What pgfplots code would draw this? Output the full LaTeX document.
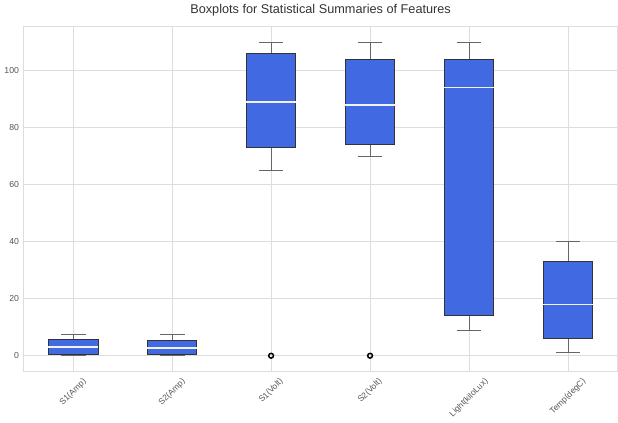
\documentclass[border=0pt]{standalone}
\usepackage{pgfplots}
\pgfplotsset{compat=1.18}
\usepgfplotslibrary{statistics}
\usepackage{fontspec}
\setmainfont{Liberation Sans}
\definecolor{royal}{HTML}{4169E1}
\definecolor{gridc}{HTML}{DDDDDD}
\definecolor{tickc}{HTML}{555555}
\begin{document}
\begin{tikzpicture}
\begin{axis}[
  scale only axis,
  width=444pt, height=258pt,
  xmin=0.5, xmax=6.5, ymin=-5.5, ymax=115.5,
  xtick={1,2,3,4,5,6},
  xticklabels={\rotatebox{45}{S1(Amp)},\rotatebox{45}{S2(Amp)},\rotatebox{45}{S1(Volt)},\rotatebox{45}{S2(Volt)},\rotatebox{45}{Light(kiloLux)},\rotatebox{45}{Temp(degC)}},
  xticklabel style={anchor=north, font=\fontsize{6.3}{7}\selectfont, text=tickc, yshift=-1pt},
  ytick={0,20,40,60,80,100},
  yticklabel style={font=\fontsize{6.5}{7}\selectfont, text=tickc},
  /pgf/number format/assume math mode=true,
  grid=major,
  major grid style={gridc, line width=0.6pt},
  axis line style={gridc, line width=0.8pt},
  tick style={draw=none},
  title={Boxplots for Statistical Summaries of Features},
  title style={font=\fontsize{9.5}{11}\selectfont, text=black!80, yshift=-2pt},
  boxplot/draw direction=y,
  boxplot/box extend=0.5,
  boxplot/whisker extend=0.25,
  boxplot/every box/.style={draw=black!80, fill=royal, line width=0.6pt},
  boxplot/every whisker/.style={draw=black!60, line width=0.7pt},
  boxplot/every median/.style={draw=white!90!gray, line width=1.2pt},
  outl/.style={mark=o, mark size=1.8pt, mark options={solid, draw=black, fill=white, line width=1.1pt}},
]
\addplot[boxplot prepared={draw position=1, lower whisker=0, lower quartile=0.4, median=3.1, upper quartile=5.9, upper whisker=7.6}, outl] coordinates {};
\addplot[boxplot prepared={draw position=2, lower whisker=0, lower quartile=0.3, median=2.8, upper quartile=5.5, upper whisker=7.5}, outl] coordinates {};
\addplot[boxplot prepared={draw position=3, lower whisker=65, lower quartile=73, median=89, upper quartile=106, upper whisker=110}, outl] coordinates {(0,0)};
\addplot[boxplot prepared={draw position=4, lower whisker=70, lower quartile=74, median=88, upper quartile=104, upper whisker=110}, outl] coordinates {(0,0)};
\addplot[boxplot prepared={draw position=5, lower whisker=9, lower quartile=14, median=94, upper quartile=104, upper whisker=110}, outl] coordinates {};
\addplot[boxplot prepared={draw position=6, lower whisker=1, lower quartile=6, median=18, upper quartile=33, upper whisker=40}, outl] coordinates {};
\end{axis}
\end{tikzpicture}
\end{document}
